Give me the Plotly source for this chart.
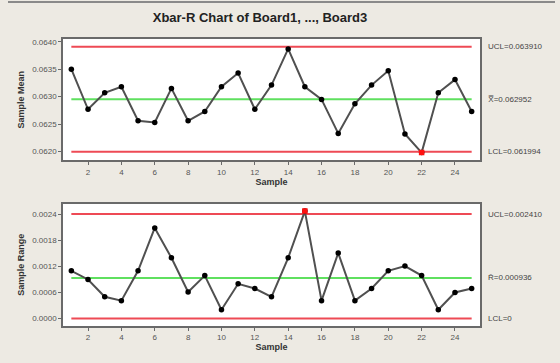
import plotly.graph_objects as go

samples = list(range(1, 26))
means = [0.06350, 0.06277, 0.06307, 0.06318, 0.06256, 0.06253, 0.06315, 0.06256, 0.06273, 0.06318,
         0.06343, 0.06277, 0.06321, 0.06387, 0.06318, 0.06295, 0.06233, 0.06287, 0.06321, 0.06347,
         0.06232, 0.06198, 0.06307, 0.06331, 0.06273]
ranges = [0.00110, 0.00090, 0.00050, 0.00041, 0.00110, 0.00209, 0.00140, 0.00061, 0.00099, 0.00020,
          0.00080, 0.00069, 0.00050, 0.00140, 0.00248, 0.00041, 0.00151, 0.00041, 0.00069, 0.00110,
          0.00121, 0.00099, 0.00020, 0.00060, 0.00069]
mean_limits = {"UCL": 0.063910, "CL": 0.062952, "LCL": 0.061994}
range_limits = {"UCL": 0.002410, "CL": 0.000936, "LCL": 0.0}
mean_labels = ["UCL=0.063910", "X\u033F=0.062952", "LCL=0.061994"]
range_labels = ["UCL=0.002410", "R\u0304=0.000936", "LCL=0"]
mean_ticks = [0.0620, 0.0625, 0.0630, 0.0635, 0.0640]
range_ticks = [0.0, 0.0006, 0.0012, 0.0018, 0.0024]
x_ticks = list(range(2, 25, 2))

RED = "#EE4A55"
GREEN = "#5FE05F"
LINE = "#505050"
FRAME = "#6a6a6a"
BG = "#EDEAE3"

fig = go.Figure()

def add_chart(vals, lim, xa, ya):
    for key, col in (("UCL", RED), ("CL", GREEN), ("LCL", RED)):
        fig.add_trace(go.Scatter(x=[samples[0], samples[-1]], y=[lim[key]] * 2, mode="lines",
                                 line=dict(color=col, width=2), xaxis=xa, yaxis=ya,
                                 hoverinfo="skip", showlegend=False))
    fig.add_trace(go.Scatter(x=samples, y=vals, mode="lines+markers",
                             line=dict(color=LINE, width=2),
                             marker=dict(color="black", size=5.5),
                             xaxis=xa, yaxis=ya, showlegend=False))
    ox = [s for s, v in zip(samples, vals) if v > lim["UCL"] or v < lim["LCL"]]
    oy = [v for v in vals if v > lim["UCL"] or v < lim["LCL"]]
    fig.add_trace(go.Scatter(x=ox, y=oy, mode="markers",
                             marker=dict(color="#ff1010", size=5.5, symbol="square"),
                             xaxis=xa, yaxis=ya, showlegend=False))

add_chart(means, mean_limits, "x", "y")
add_chart(ranges, range_limits, "x2", "y2")

axis_common = dict(showline=True, linecolor=FRAME, linewidth=1.5, mirror=True, showgrid=False,
                   zeroline=False, ticks="outside", ticklen=3, tickcolor=FRAME,
                   tickfont=dict(family="Liberation Sans", size=8, color="#555"))

fig.update_layout(
    width=560, height=363,
    margin=dict(l=63, r=80, t=39, b=33),
    paper_bgcolor=BG, plot_bgcolor="white",
    title=dict(text="<b>Xbar-R Chart of Board1, ..., Board3</b>", x=260 / 560, xanchor="center",
               y=1 - 17 / 363, yanchor="middle",
               font=dict(family="Liberation Sans", size=13, color="#222")),
    xaxis=dict(domain=[0, 1], range=[0.5, 25.5], tickvals=x_ticks, anchor="y",
               title=dict(text="<b>Sample</b>", standoff=2,
                          font=dict(family="Liberation Sans", size=9, color="#333")),
               **axis_common),
    yaxis=dict(domain=[168 / 291, 1.0], range=[0.06184, 0.06405], tickvals=mean_ticks,
               tickformat=".4f", anchor="x",
               title=dict(text="<b>Sample Mean</b>", standoff=6,
                          font=dict(family="Liberation Sans", size=9, color="#333")),
               **axis_common),
    xaxis2=dict(domain=[0, 1], range=[0.5, 25.5], tickvals=x_ticks, anchor="y2",
                title=dict(text="<b>Sample</b>", standoff=2,
                           font=dict(family="Liberation Sans", size=9, color="#333")),
                **axis_common),
    yaxis2=dict(domain=[0, 124 / 291], range=[-0.000175, 0.00265], tickvals=range_ticks,
                tickformat=".4f", anchor="x2",
                title=dict(text="<b>Sample Range</b>", standoff=6,
                           font=dict(family="Liberation Sans", size=9, color="#333")),
                **axis_common),
    shapes=[dict(type="line", xref="paper", yref="paper", x0=-55 / 417, x1=492 / 417,
                 y0=1 + 37.5 / 291, y1=1 + 37.5 / 291, line=dict(color="#8a8a8a", width=2))],
)

for lab, key in zip(mean_labels, ("UCL", "CL", "LCL")):
    fig.add_annotation(x=1, xref="paper", xshift=6, y=mean_limits[key], yref="y", text=lab,
                       showarrow=False, xanchor="left", yanchor="middle",
                       font=dict(family="Liberation Sans", size=8, color="#444"))
for lab, key in zip(range_labels, ("UCL", "CL", "LCL")):
    fig.add_annotation(x=1, xref="paper", xshift=6, y=range_limits[key], yref="y2", text=lab,
                       showarrow=False, xanchor="left", yanchor="middle",
                       font=dict(family="Liberation Sans", size=8, color="#444"))

fig.write_html("out.html")
